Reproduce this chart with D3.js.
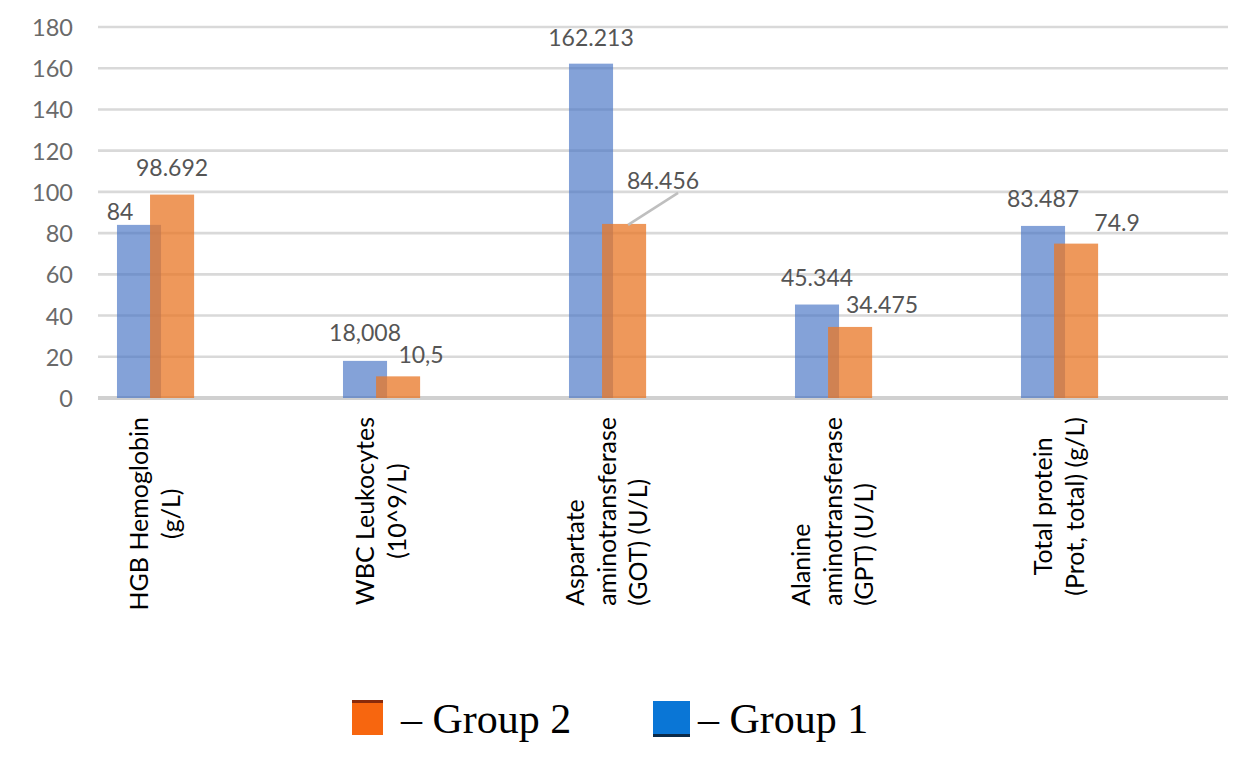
<!DOCTYPE html>
<html><head><meta charset="utf-8">
<script src="https://cdn.jsdelivr.net/npm/d3@7"></script>
<style>body{margin:0;background:#fff}</style>
</head><body><svg id="c" width="1242" height="763"></svg>
<script>
const categories = ["HGB", "WBC", "GOT", "GPT", "PROT"];
const categoryLabelLines = [
  ["HGB Hemoglobin", "(g/L)"],
  ["WBC Leukocytes", "(10^9/L)"],
  ["Aspartate", "aminotransferase", "(GOT) (U/L)"],
  ["Alanine", "aminotransferase", "(GPT) (U/L)"],
  ["Total protein", "(Prot, total) (g/L)"]
];
const categoryLabelAlign = ["middle", "middle", "start", "start", "middle"];
const group1 = [84, 18.008, 162.213, 45.344, 83.487];
const group2 = [98.692, 10.5, 84.456, 34.475, 74.9];
const group1Text = ["84", "18,008", "162.213", "45.344", "83.487"];
const group2Text = ["98.692", "10,5", "84.456", "34.475", "74.9"];
const yTicks = [0, 20, 40, 60, 80, 100, 120, 140, 160, 180];
const legendItems = ["– Group 2", "– Group 1"];

// label placement tweaks (layout, not data)
const g1LabelShift = [[-19, -5], [0, -20], [0, -18], [0, -19], [0, -19]];
const g2LabelShift = [[0, -19], [23, -13], [39, -35], [32, -14], [41, -13]];

const svg = d3.select("#c");
const y = d3.scaleLinear().domain([0, 180]).range([398, 27]);
const x0 = d3.scaleBand().domain(categories).range([98, 1228]);
const bw = x0.bandwidth();
const barW = bw * 0.195;
const blueX = c => x0(c) + bw * 0.084;
const orangeX = c => blueX(c) + barW * 0.75;

// gridlines
svg.append("g").selectAll("line").data(yTicks).join("line")
  .attr("x1", 98).attr("x2", 1228)
  .attr("y1", d => y(d)).attr("y2", d => y(d))
  .attr("stroke", d => d === 0 ? "#d0d0d0" : "#d9d9d9")
  .attr("stroke-width", d => d === 0 ? 4 : 2.6);

// y tick labels
svg.append("g").selectAll("text").data(yTicks).join("text")
  .attr("x", 73).attr("y", d => y(d))
  .attr("text-anchor", "end").attr("dominant-baseline", "central")
  .attr("font-family", "Lato, 'Open Sans', sans-serif").attr("font-size", 23.5)
  .attr("fill", "#6a6a6a").text(d => d);

// bars
const rows = categories.map((c, i) => ({c, i, g1: group1[i], g2: group2[i]}));
svg.append("g").selectAll("rect").data(rows).join("rect")
  .attr("x", d => blueX(d.c)).attr("width", barW)
  .attr("y", d => y(d.g1)).attr("height", d => y(0) - y(d.g1))
  .attr("fill", "rgb(68,114,196)").attr("fill-opacity", 0.66);
svg.append("g").selectAll("rect").data(rows).join("rect")
  .attr("x", d => orangeX(d.c)).attr("width", barW)
  .attr("y", d => y(d.g2)).attr("height", d => y(0) - y(d.g2))
  .attr("fill", "rgb(233,120,40)").attr("fill-opacity", 0.76);

// leader line for GOT group2
{
  const i = 2, c = categories[i];
  const bx = orangeX(c) + barW / 2, by = y(group2[i]);
  const lx = bx + g2LabelShift[i][0], ly = by + g2LabelShift[i][1];
  svg.append("line")
    .attr("x1", bx + 4).attr("y1", by + 1)
    .attr("x2", lx + 15).attr("y2", ly + 4)
    .attr("stroke", "#bfbfbf").attr("stroke-width", 2.5);
}

// data labels
const lblFont = "Lato, 'Open Sans', sans-serif";
svg.append("g").selectAll("text").data(rows).join("text")
  .attr("x", d => blueX(d.c) + barW / 2 + g1LabelShift[d.i][0])
  .attr("y", d => y(d.g1) + g1LabelShift[d.i][1])
  .attr("text-anchor", "middle").attr("font-family", lblFont).attr("font-size", 23)
  .attr("fill", "#555").text(d => group1Text[d.i]);
svg.append("g").selectAll("text").data(rows).join("text")
  .attr("x", d => orangeX(d.c) + barW / 2 + g2LabelShift[d.i][0])
  .attr("y", d => y(d.g2) + g2LabelShift[d.i][1])
  .attr("text-anchor", "middle").attr("font-family", lblFont).attr("font-size", 23)
  .attr("fill", "#555").text(d => group2Text[d.i]);

// category labels (rotated, multi-line)
const lineGap = 31.5, topY = 417, fs = 25;
categories.forEach((c, i) => {
  const lines = categoryLabelLines[i];
  const pairCenter = (blueX(c) + orangeX(c) + barW) / 2;
  const g = svg.append("g");
  const texts = lines.map((t, k) => g.append("text")
    .attr("font-family", lblFont).attr("font-size", fs).attr("fill", "#000").text(t));
  const lens = texts.map(t => t.node().getComputedTextLength());
  const maxLen = d3.max(lens);
  const n = lines.length;
  texts.forEach((t, k) => {
    const cx = pairCenter + (k - (n - 1) / 2) * lineGap + fs * 0.33;
    let yy, anchor;
    if (categoryLabelAlign[i] === "middle") { yy = topY + maxLen / 2; anchor = "middle"; }
    else { yy = topY + maxLen; anchor = "start"; }
    t.attr("text-anchor", anchor)
     .attr("transform", `translate(${cx},${yy}) rotate(-90)`);
  });
});

// legend
const lg = svg.append("g");
lg.append("rect").attr("x", 352).attr("y", 700).attr("width", 31).attr("height", 35).attr("fill", "#f7660f");
lg.append("rect").attr("x", 352).attr("y", 700).attr("width", 31).attr("height", 3).attr("fill", "#8a2a0a");
lg.append("rect").attr("x", 653).attr("y", 701).attr("width", 37).attr("height", 36).attr("fill", "#0a76d6");
lg.append("rect").attr("x", 653).attr("y", 734).attr("width", 37).attr("height", 3).attr("fill", "#0b2a48");
lg.selectAll("text").data(legendItems).join("text")
  .attr("x", (d, i) => i === 0 ? 401 : 698).attr("y", 733)
  .attr("font-family", "'Liberation Serif', 'Times New Roman', serif").attr("font-size", 42)
  .attr("fill", "#000").text(d => d);
</script>
</body></html>
